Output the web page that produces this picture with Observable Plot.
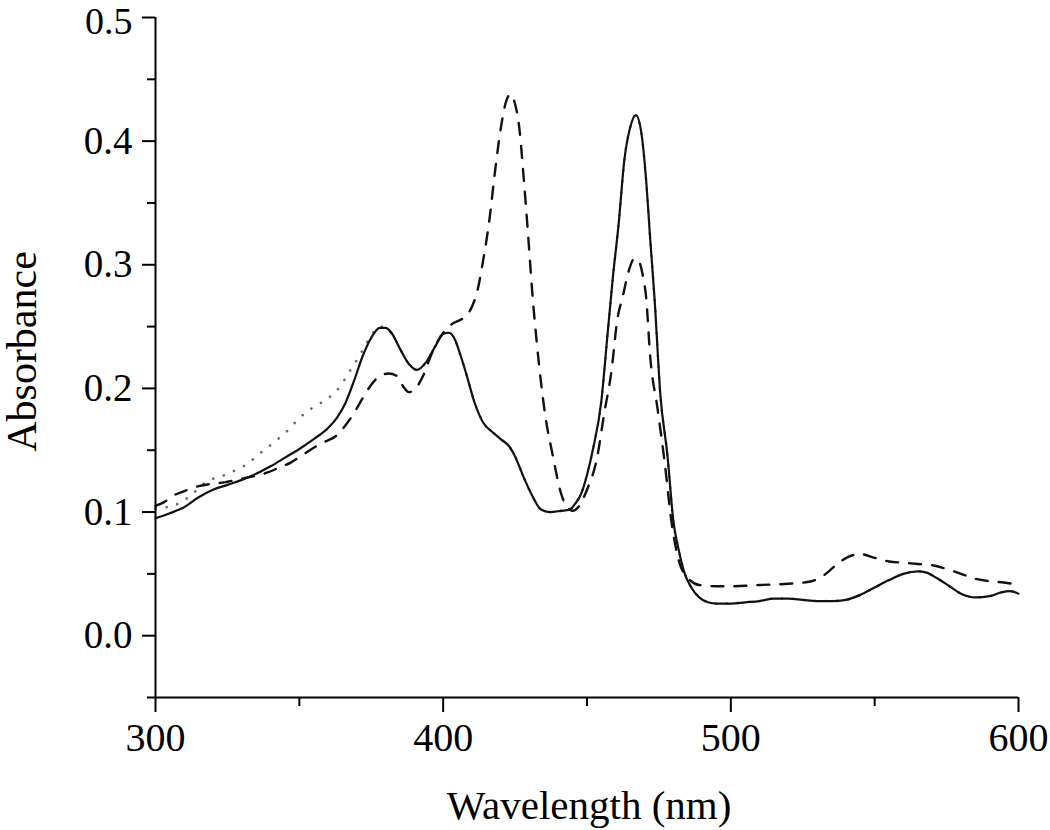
<!DOCTYPE html>
<html>
<head>
<meta charset="utf-8">
<script src="https://cdn.jsdelivr.net/npm/d3@7"></script>
<script src="https://cdn.jsdelivr.net/npm/@observablehq/plot@0.6"></script>
<style>
  html, body { margin: 0; padding: 0; background: #fff; }
  #chart { width: 1050px; height: 830px; }
</style>
</head>
<body>
<div id="chart"></div>
<script>
// Axis ticks
const xMajorTicks = [300, 400, 500, 600];
const xMinorTicks = [350, 450, 550];
const yMajorTicks = [0.0, 0.1, 0.2, 0.3, 0.4, 0.5];
const yTopTick = [0.5];
const yMinorTicks = [-0.05, 0.05, 0.15, 0.25, 0.35, 0.45];
const xLabel = "Wavelength (nm)";
const yLabel = "Absorbance";

// Solid series
const solidWl = [300,305,310,315,320,325,330,335,340,345,350,355,360,363,366,369,372,375,378,380,382,385,388,391,394,397,400,402,404,406,408,411,414,417,420,423,425,428,431,434,437,441,444,446,448,450,452,455,457,459,461,463,465,467,469,470.5,472,473.5,475.5,478,480,482,484,486,489,492,495,500,505,510,515,520,525,530,535,540,545,550,555,560,565,568,572,576,580,585,590,594,597,600];
const solidAbs = [0.095,0.099,0.104,0.112,0.118,0.122,0.126,0.131,0.137,0.144,0.151,0.159,0.168,0.176,0.188,0.206,0.226,0.241,0.249,0.249,0.245,0.232,0.220,0.215,0.221,0.233,0.244,0.245,0.240,0.227,0.212,0.188,0.172,0.165,0.159,0.153,0.145,0.128,0.113,0.102,0.100,0.101,0.102,0.107,0.115,0.130,0.150,0.190,0.240,0.290,0.333,0.385,0.411,0.421,0.405,0.370,0.320,0.272,0.195,0.145,0.093,0.068,0.050,0.040,0.031,0.027,0.026,0.026,0.027,0.028,0.030,0.030,0.029,0.028,0.028,0.029,0.033,0.039,0.045,0.050,0.052,0.051,0.046,0.040,0.034,0.031,0.032,0.035,0.036,0.034];

// Dotted series
const dottedWl = [300,304,309,313,318,323,328,332,336,341,346,350,355,360,364,367,370,373,375,378,380,382,385,388,391,394,397,400,402,404,406,408,411,414,417,420,423,425,428,431,434,437,441,444,446,448,450,452,455,457,459,461,463,465,467,469,470.5,472,473.5,475.5,478,480,482,484,486,489,492,495,500,505,510,515,520,525,530,535,540,545,550,555,560,565,568,572,576,580,585,590,594,597,600];
const dottedAbs = [0.103,0.104,0.108,0.115,0.125,0.129,0.134,0.139,0.147,0.156,0.166,0.176,0.185,0.192,0.201,0.212,0.223,0.235,0.243,0.250,0.249,0.245,0.232,0.220,0.215,0.221,0.233,0.244,0.245,0.240,0.227,0.212,0.188,0.172,0.165,0.159,0.153,0.145,0.128,0.113,0.102,0.100,0.101,0.102,0.107,0.115,0.130,0.150,0.190,0.240,0.290,0.333,0.385,0.411,0.421,0.405,0.370,0.320,0.272,0.195,0.145,0.093,0.068,0.050,0.040,0.031,0.027,0.026,0.026,0.027,0.028,0.030,0.030,0.029,0.028,0.028,0.029,0.033,0.039,0.045,0.050,0.052,0.051,0.046,0.040,0.034,0.031,0.032,0.035,0.036,0.034];

// Dashed series
const dashedWl = [300,303,306,310,315,320,324,328,332,339,343,347,351,355,359,363,366,369,372,375,378,381,384,386,388,390,393,396,400,403,407,410,412,414,416,418,420,422,423.5,425,426.5,428,429.5,431,432.5,434,435.5,438,441,443,445,447,450,453.5,456,458.5,460.5,462.5,464.5,466.5,468,469.5,470.5,472,474.5,477,479.5,482,485,489,495,500,510,520,528,533,537,541,545,550,555,560,565,570,575,580,585,590,595,600];
const dashedAbs = [0.105,0.108,0.113,0.117,0.121,0.123,0.124,0.126,0.128,0.132,0.136,0.140,0.146,0.152,0.157,0.162,0.170,0.180,0.192,0.203,0.210,0.212,0.210,0.202,0.197,0.199,0.210,0.228,0.245,0.252,0.257,0.266,0.280,0.305,0.335,0.375,0.410,0.433,0.438,0.430,0.410,0.370,0.325,0.277,0.238,0.205,0.178,0.147,0.115,0.104,0.101,0.104,0.118,0.144,0.180,0.214,0.255,0.275,0.295,0.305,0.303,0.290,0.275,0.225,0.184,0.140,0.090,0.060,0.047,0.041,0.040,0.040,0.041,0.042,0.044,0.050,0.058,0.064,0.066,0.063,0.060,0.059,0.058,0.057,0.054,0.050,0.046,0.044,0.043,0.041];

const toRows = (wl, ab) => wl.map((w, i) => ({wl: w, a: ab[i]}));
const solid = toRows(solidWl, solidAbs);
const dotted = toRows(dottedWl, dottedAbs);
const dashed = toRows(dashedWl, dashedAbs);
const fmt1 = d3.format(".1f");

const chart = Plot.plot({
  width: 1050,
  height: 830,
  marginLeft: 155,
  marginRight: 32,
  marginTop: 17,
  marginBottom: 133,
  x: {domain: [300, 600]},
  y: {domain: [-0.05, 0.5]},
  style: {fontFamily: "'Liberation Serif', 'Times New Roman', serif", background: "#fff", color: "#000", overflow: "visible"},
  marks: [
    Plot.line(dotted, {x: "wl", y: "a", stroke: "#666", strokeWidth: 2.6, strokeDasharray: "0.1 11", strokeLinecap: "round", curve: "monotone-x"}),
    Plot.line(dashed, {x: "wl", y: "a", stroke: "#111", strokeWidth: 2.4, strokeDasharray: "12 11", curve: "monotone-x"}),
    Plot.line(solid, {x: "wl", y: "a", stroke: "#111", strokeWidth: 2.2, curve: "monotone-x"}),
    Plot.ruleX([300], {stroke: "#000", strokeWidth: 2}),
    Plot.ruleY([-0.05], {stroke: "#000", strokeWidth: 2}),
    Plot.axisY({ticks: yMajorTicks, tickSize: 13, tickPadding: 10, tickFormat: (d) => d === 0.5 ? "" : fmt1(d), fontSize: 39, label: null, strokeWidth: 2}),
    Plot.text(yTopTick, {x: 300, y: (d) => d, text: (d) => fmt1(d), textAnchor: "end", lineAnchor: "middle", dx: -23, dy: 4, fontSize: 38}),
    Plot.axisY({ticks: yMinorTicks, tickSize: 8, tickFormat: () => "", label: null, strokeWidth: 2}),
    Plot.axisX({ticks: xMajorTicks, tickSize: 15, tickPadding: 10, tickFormat: d3.format("d"), fontSize: 40, label: null, strokeWidth: 2}),
    Plot.axisX({ticks: xMinorTicks, tickSize: 9, tickFormat: () => "", label: null, strokeWidth: 2}),
    Plot.text([xLabel], {frameAnchor: "bottom", dx: 2, dy: 108, fontSize: 41, lineAnchor: "middle", textAnchor: "middle"}),
    Plot.text([yLabel], {frameAnchor: "left", dx: -133, dy: -6, rotate: -90, fontSize: 42, lineAnchor: "middle", textAnchor: "middle"})
  ]
});
document.getElementById("chart").appendChild(chart);
</script>
</body>
</html>
